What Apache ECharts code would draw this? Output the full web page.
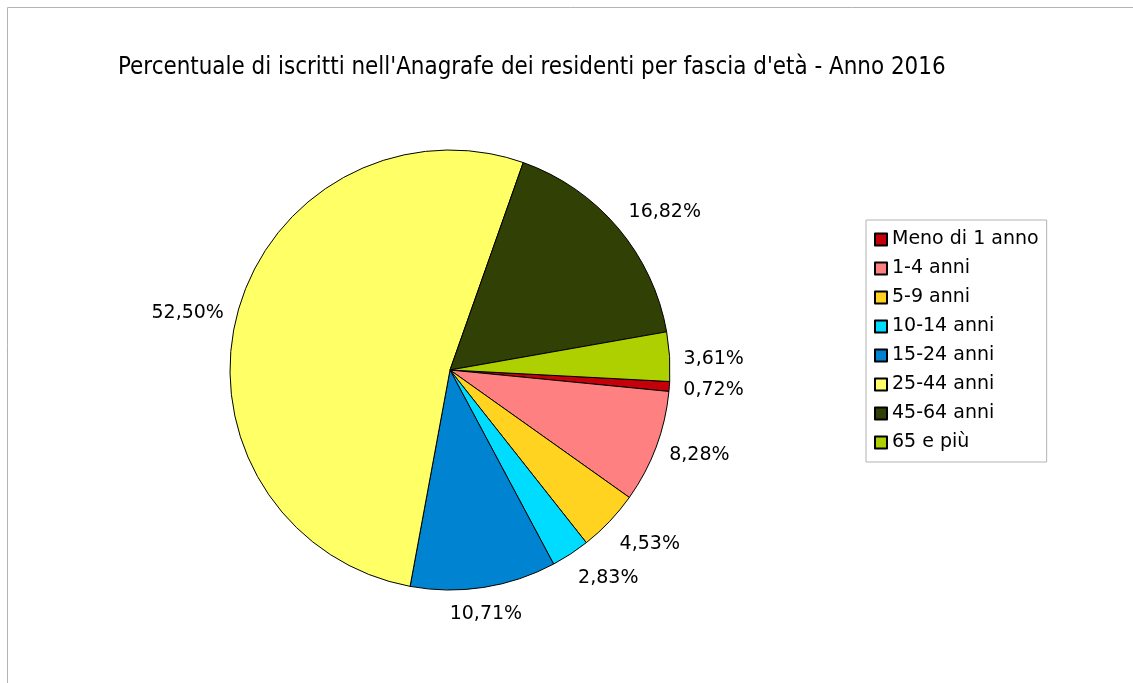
<!DOCTYPE html>
<html>
<head>
<meta charset="utf-8">
<script src="https://cdn.jsdelivr.net/npm/echarts@6/dist/echarts.min.js"></script>
<style>
html, body { margin: 0; padding: 0; background: #fff; }
#chart { width: 1133px; height: 683px; }
</style>
</head>
<body>
<div id="chart"></div>
<script>
var categories = ['Meno di 1 anno', '1-4 anni', '5-9 anni', '10-14 anni', '15-24 anni', '25-44 anni', '45-64 anni', '65 e più'];
var percentages = [0.72, 8.28, 4.53, 2.83, 10.71, 52.50, 16.82, 3.61];
var colors = ['#c5000b', '#ff8080', '#ffd320', '#00dcff', '#0084d1', '#ffff66', '#314004', '#aecf00'];

var CX = 450, CY = 370, R = 220, START = -3, GAP = 14;
var font = 'DejaVu Sans';

var total = percentages.reduce(function (a, b) { return a + b; }, 0);
var mids = [];
var acc = 0;
percentages.forEach(function (v) { mids.push(acc + v / 2); acc += v; });

var myChart = echarts.init(document.getElementById('chart'));
var option = {
    color: colors,
    animation: false,
    title: {
        text: "Percentuale di iscritti nell'Anagrafe dei residenti per fascia d'età - Anno 2016",
        left: 113,
        top: 51,
        textStyle: {
            fontFamily: 'DejaVu Sans Condensed',
            fontSize: 23.9,
            fontWeight: 'normal',
            color: '#000'
        }
    },
    graphic: [{
        type: 'rect',
        shape: { x: 7.5, y: 7.5, width: 1300, height: 900 },
        style: { fill: 'none', stroke: '#b3b3b3', lineWidth: 1 },
        silent: true
    }],
    legend: {
        orient: 'vertical',
        left: 866,
        top: 220,
        borderColor: '#b3b3b3',
        borderWidth: 1,
        padding: [10, 8, 10, 8],
        itemWidth: 12,
        itemHeight: 12,
        itemGap: 10,
        icon: 'rect',
        data: categories,
        textStyle: {
            fontFamily: font,
            fontSize: 19,
            lineHeight: 19,
            color: '#000'
        }
    },
    series: [{
        type: 'pie',
        center: [CX, CY],
        radius: R,
        startAngle: START,
        clockwise: true,
        avoidLabelOverlap: false,
        itemStyle: {
            borderColor: '#000',
            borderWidth: 1
        },
        emphasis: { disabled: true },
        label: {
            show: true,
            position: 'outside',
            fontFamily: font,
            fontSize: 19,
            color: '#000',
            formatter: function (p) {
                return p.value.toFixed(2).replace('.', ',') + '%';
            }
        },
        labelLine: { show: false },
        labelLayout: function (p) {
            var ang = (-START + mids[p.dataIndex] / total * 360) * Math.PI / 180;
            var dx = Math.cos(ang), dy = Math.sin(ang);
            var px = CX + dx * (R + GAP), py = CY + dy * (R + GAP);
            var w = p.labelRect.width, h = p.labelRect.height;
            var ox = Math.abs(dx) > 0.38 ? Math.sign(dx) * w / 2 : 0;
            var oy = Math.abs(dy) > 0.38 ? Math.sign(dy) * h / 2 : 0;
            return { x: px + ox, y: py + oy + 3, align: 'center', verticalAlign: 'middle' };
        },
        data: categories.map(function (c, i) {
            return { name: c, value: percentages[i] };
        })
    }]
};
myChart.setOption(option);
</script>
</body>
</html>
